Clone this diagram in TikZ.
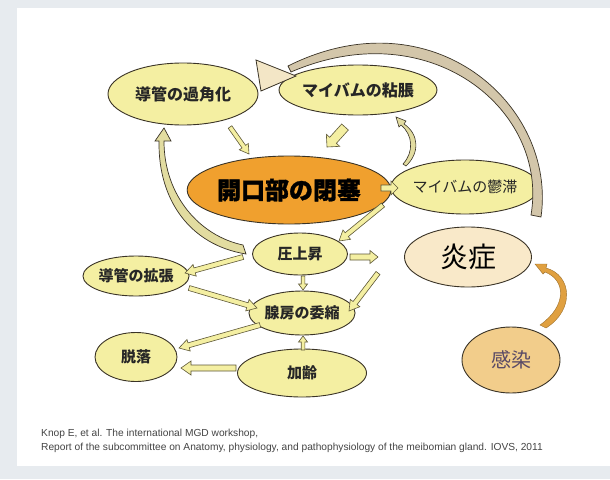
\documentclass[tikz,border=0pt]{standalone}
\usepackage{fontspec}
\setmainfont{Liberation Sans}
\newfontfamily\jp{Noto Sans CJK JP}
\newfontfamily\jpheavy{Noto Sans CJK JP}[BoldFeatures={FakeBold=1.2}]
\usetikzlibrary{calc,shapes.geometric}
\definecolor{bggray}{HTML}{E7EBEF}
\definecolor{pale}{HTML}{F4EFA2}
\definecolor{edge}{HTML}{3A3326}
\definecolor{orng}{HTML}{F0A02E}
\definecolor{inflam}{HTML}{F9E9C9}
\definecolor{infect}{HTML}{F2CD8B}
\definecolor{infecttext}{HTML}{5A4A66}
\definecolor{arcfill}{HTML}{D3C6AA}
\definecolor{headfill}{HTML}{F3E6C6}
\definecolor{arrline}{HTML}{5E5838}
\definecolor{curvefill}{HTML}{E2DCA0}
\definecolor{orcurve}{HTML}{E0A040}
\definecolor{citegray}{HTML}{444444}
\newcommand\barr[6]{%
  \coordinate (bA) at (#1); \coordinate (bB) at (#2);
  \coordinate (bH) at ($(bB)!#5!(bA)$);
  \draw[#6] ($(bA)!#3!90:(bB)$) -- ($(bH)!#3!-90:(bA)$) -- ($(bH)!#4!-90:(bA)$) -- (bB)
    -- ($(bH)!#4!90:(bA)$) -- ($(bH)!#3!90:(bA)$) -- ($(bA)!#3!-90:(bB)$) -- cycle;}
\tikzset{
  ell/.style={ellipse, draw=edge, line width=0.9pt, fill=pale, inner sep=0pt,
    font=\jp\bfseries\fontsize{15}{15}\selectfont, text=black!85},
  harr/.style={fill=pale, draw=arrline, line width=0.6pt, line join=miter},
}
\begin{document}
\begin{tikzpicture}[x=1pt,y=-1pt]
\fill[bggray] (0,0) rectangle (610,479);
\fill[white] (17,8) rectangle (610,466);
\useasboundingbox (0,0) rectangle (610,479);

% nodes
\node[ell, minimum width=150pt, minimum height=62pt, font=\jp\bfseries\fontsize{16}{16}\selectfont] (kaku) at (183,94) {導管の過角化};
\node[ell, minimum width=133pt, minimum height=50pt, font=\jp\bfseries\fontsize{16}{16}\selectfont] (nen) at (358,90) {マイバムの粘脹};
\node[ell, fill=orng, minimum width=158pt, minimum height=68pt,
      font=\jpheavy\bfseries\fontsize{24}{24}\selectfont, text=black] (heisoku) at (289,190) {開口部の閉塞};
\node[ell, minimum width=122pt, minimum height=54pt, font=\jp\fontsize{15}{15}\selectfont] (uttai) at (465,187) {マイバムの鬱滞};
\node[ell, fill=inflam, minimum width=127pt, minimum height=60pt,
      font=\jp\fontsize{28}{28}\selectfont, text=black] (ensho) at (468,257) {炎症};
\node[ell, minimum width=95pt, minimum height=42pt] (atsu) at (300,254) {圧上昇};
\node[ell, minimum width=91pt, minimum height=40pt] (kakucho) at (136,276) {導管の拡張};
\node[ell, minimum width=84pt, minimum height=44pt] (ishuku) at (302,313) {腺房の委縮};
\node[ell, minimum width=82pt, minimum height=49pt] (datsu) at (136,357) {脱落};
\node[ell, minimum width=129pt, minimum height=48pt] (karei) at (302,373) {加齢};
\node[ell, fill=infect, minimum width=98pt, minimum height=66pt,
      font=\jp\fontsize{20}{20}\selectfont, text=infecttext] (kansen) at (511,360) {感染};

% big tapered arc from ensho to kaku
\draw[fill=arcfill, draw=edge, line width=0.7pt]
  (541,217) .. controls (557,105) and (432,-6) .. (288,66)
  -- (291,72)
  .. controls (430,12) and (549,110) .. (531,215) -- cycle;
\draw[fill=headfill, draw=edge, line width=0.8pt, line join=miter]
  (256,60) -- (296,76) -- (261,91) -- cycle;

% curved tapered arrow atsu -> kaku
\draw[fill=curvefill, draw=edge, line width=0.7pt]
  (246,254) .. controls (190,245) and (158,200) .. (159,141)
  -- (155,141) -- (164,128) -- (171,141) -- (164,141)
  .. controls (164,196) and (200,236) .. (243,245) -- cycle;

% curved arrow uttai -> nen
\draw[fill=curvefill, draw=edge, line width=0.6pt]
  (406,166) .. controls (420,153) and (419,134) .. (404,124)
  -- (406,121) -- (396,117) -- (399,127) -- (401,125)
  .. controls (413,135) and (414,152) .. (403,164) -- cycle;

% orange curve kansen -> ensho
\draw[fill=orcurve, draw=orcurve!70!black, line width=0.4pt]
  (546,328) .. controls (575,310) and (572,275) .. (546,268)
  -- (547,264) -- (535,264) -- (543,274) -- (545,272)
  .. controls (566,280) and (567,306) .. (540,325) -- cycle;

% straight hollow arrows
\barr{230,127}{249,154}{2.2pt}{5.5pt}{9pt}{harr}
\barr{345,127}{327,147}{4.5pt}{9pt}{9pt}{harr}
\barr{381,188}{398,188}{3pt}{7pt}{7pt}{harr}
\barr{383,205}{339,241}{2.5pt}{6pt}{10pt}{harr}
\barr{243,257}{185,273}{2.5pt}{6pt}{10pt}{harr}
\barr{350,257}{378,257}{3pt}{6.5pt}{8pt}{harr}
\barr{303,276}{303,290}{1.8pt}{4.5pt}{6pt}{harr}
\barr{378,273}{349,311}{2.5pt}{6pt}{10pt}{harr}
\barr{189,288}{257,308}{2.5pt}{6pt}{10pt}{harr}
\barr{260,325}{179,348}{2.5pt}{6pt}{10pt}{harr}
\barr{303,350}{303,336}{1.8pt}{4.5pt}{6pt}{harr}
\barr{236,368}{181,368}{3pt}{7pt}{10pt}{harr}

% citation
\node[anchor=west, font=\fontsize{10.2}{13.5}\selectfont, text=citegray, align=left, inner sep=0pt]
  (cite) at (41,441) {Knop E, et al. The international MGD workshop,\\
Report of the subcommittee on Anatomy, physiology, and pathophysiology of the meibomian gland. IOVS, 2011};
\end{tikzpicture}
\end{document}
